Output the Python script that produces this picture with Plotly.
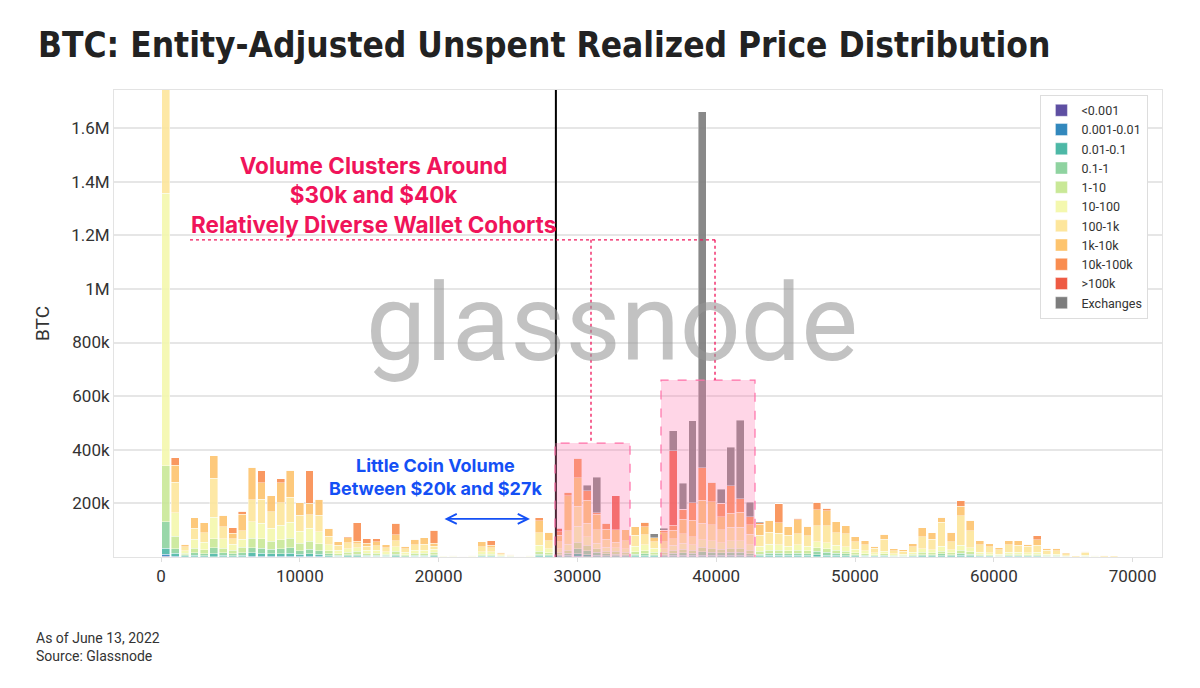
import plotly.graph_objects as go

# price bins: 100 buckets of $690 (0 .. 69,000), values in thousands of BTC
BIN_WIDTH = 690
price_bins = [BIN_WIDTH * i + BIN_WIDTH / 2 for i in range(100)]

cohorts = ["<0.001", "0.001-0.01", "0.01-0.1", "0.1-1", "1-10", "10-100",
           "100-1k", "1k-10k", "10k-100k", ">100k", "Exchanges"]
colors = ["#5e4fa2", "#3288bd", "#4db8a6", "#8fd3a0", "#c9e897", "#f4f8ae",
          "#fde69c", "#fdc46e", "#f98d50", "#ee5a43", "#7d7d7d"]

lt_0001 = [3, 0, 0, 0, 0, 0, 0, 0, 0, 0,
           0, 0, 0, 0, 0, 0, 0, 0, 0, 0,
           0, 0, 0, 0, 0, 0, 0, 0, 0, 0,
           0, 0, 0, 0, 0, 0, 0, 0, 0, 0,
           0, 0, 0, 0, 0, 0, 0, 0, 0, 0,
           0, 0, 0, 0, 0, 0, 0, 0, 0, 0,
           0, 0, 0, 0, 0, 0, 0, 0, 0, 0,
           0, 0, 0, 0, 0, 0, 0, 0, 0, 0,
           0, 0, 0, 0, 0, 0, 0, 0, 0, 0,
           0, 0, 0, 0, 0, 0, 0, 0, 0, 0]
c_0001_001 = [8, 2, 1, 1, 1, 1, 1, 1, 1, 3,
              2, 2, 2, 2, 2, 2, 2, 1, 1, 1,
              1, 1, 1, 1, 1, 0, 1, 1, 1, 0,
              0, 0, 0, 0, 0, 0, 0, 0, 0, 1,
              1, 1, 1, 2, 1, 1, 1, 1, 1, 1,
              1, 1, 1, 1, 1, 1, 1, 1, 1, 1,
              1, 1, 1, 1, 1, 1, 1, 1, 1, 1,
              1, 1, 1, 1, 0, 0, 0, 0, 0, 1,
              1, 1, 1, 1, 1, 0, 0, 0, 0, 0,
              0, 0, 0, 0, 0, 0, 0, 0, 0, 0]
c_001_01 = [22, 12, 3, 5, 4, 12, 5, 4, 5, 13,
            12, 10, 11, 12, 8, 10, 8, 4, 2, 3,
            4, 2, 2, 2, 4, 1, 2, 2, 3, 0,
            0, 0, 0, 2, 2, 1, 0, 0, 0, 4,
            3, 3, 5, 10, 8, 6, 4, 4, 3, 4,
            4, 3, 3, 5, 5, 5, 6, 6, 5, 6,
            6, 4, 4, 5, 5, 5, 5, 5, 8, 6,
            5, 4, 3, 2, 2, 2, 1, 1, 2, 3,
            3, 4, 3, 5, 4, 2, 2, 1, 2, 2,
            2, 2, 1, 1, 0, 0, 0, 0, 0, 0]
c_01_1 = [98, 17, 4, 10, 8, 21, 9, 7, 10, 18,
          18, 16, 18, 20, 14, 16, 14, 7, 4, 5,
          6, 4, 4, 3, 6, 3, 4, 4, 5, 0,
          0, 0, 0, 3, 3, 1, 1, 0, 0, 6,
          4, 5, 8, 18, 14, 10, 7, 6, 5, 6,
          7, 5, 5, 8, 9, 8, 12, 10, 9, 10,
          10, 8, 6, 8, 8, 7, 8, 7, 12, 10,
          8, 7, 5, 4, 3, 4, 2, 2, 3, 5,
          4, 7, 4, 8, 6, 3, 3, 2, 3, 3,
          3, 3, 2, 2, 1, 0, 1, 0, 0, 0]
c_1_10 = [209, 47, 6, 16, 14, 34, 18, 13, 20, 36,
          36, 30, 33, 36, 28, 30, 26, 12, 6, 8,
          10, 7, 7, 5, 10, 5, 7, 7, 8, 1,
          1, 0, 1, 5, 5, 2, 1, 0, 1, 10,
          8, 8, 12, 25, 20, 14, 10, 10, 8, 9,
          11, 8, 8, 12, 14, 12, 18, 16, 14, 16,
          16, 12, 10, 12, 12, 10, 12, 10, 14, 14,
          12, 10, 7, 6, 4, 6, 3, 3, 5, 8,
          7, 10, 7, 12, 9, 5, 4, 3, 5, 5,
          4, 5, 3, 3, 1, 0, 2, 1, 0, 0]
c_10_100 = [1016, 87, 10, 34, 28, 80, 35, 22, 30, 62,
            57, 50, 55, 60, 45, 50, 45, 22, 12, 14,
            14, 12, 12, 9, 18, 8, 12, 12, 12, 1,
            2, 1, 2, 10, 10, 4, 2, 1, 2, 22,
            14, 14, 22, 60, 32, 20, 15, 14, 14, 20,
            22, 15, 14, 18, 22, 20, 28, 27, 24, 28,
            28, 20, 20, 22, 20, 17, 20, 17, 22, 22,
            18, 16, 12, 10, 7, 10, 6, 5, 8, 14,
            12, 18, 12, 18, 14, 8, 7, 5, 8, 8,
            7, 8, 5, 5, 3, 1, 4, 1, 1, 1]
c_100_1k = [500, 114, 14, 41, 35, 146, 45, 22, 32, 81,
            90, 60, 83, 93, 58, 50, 60, 32, 18, 22,
            14, 14, 16, 14, 22, 13, 20, 22, 12, 2,
            2, 1, 2, 18, 14, 5, 3, 1, 2, 48,
            30, 26, 50, 75, 50, 50, 30, 20, 30, 42,
            38, 25, 25, 25, 36, 30, 60, 60, 48, 50,
            50, 40, 40, 45, 42, 42, 40, 40, 60, 64,
            47, 48, 28, 22, 16, 45, 12, 11, 20, 44,
            40, 90, 30, 110, 64, 28, 22, 16, 28, 26,
            24, 26, 14, 13, 7, 3, 11, 4, 4, 3]
c_1k_10k = [0, 63, 10, 40, 38, 83, 42, 19, 62, 122,
            62, 60, 75, 100, 50, 42, 60, 30, 14, 18,
            10, 12, 14, 11, 22, 10, 20, 24, 10, 1,
            2, 0, 2, 18, 10, 4, 3, 0, 2, 45,
            32, 25, 131, 106, 87, 58, 37, 46, 40, 30,
            30, 15, 34, 31, 54, 62, 87, 87, 50, 52,
            56, 36, 42, 44, 40, 30, 53, 34, 60, 55,
            40, 30, 20, 15, 8, 18, 7, 5, 12, 34,
            24, 18, 36, 35, 40, 15, 12, 8, 15, 17,
            8, 20, 7, 8, 3, 1, 4, 1, 1, 1]
c_10k_100k = [0, 29, 0, 0, 0, 0, 0, 21, 10, 0,
              45, 0, 14, 0, 0, 122, 0, 0, 0, 4,
              68, 16, 12, 0, 42, 0, 0, 0, 48, 0,
              0, 0, 0, 0, 16, 0, 0, 0, 0, 11,
              0, 13, 12, 73, 35, 7, 22, 0, 0, 0,
              16, 0, 10, 19, 37, 65, 121, 72, 50, 103,
              50, 30, 5, 0, 71, 0, 6, 0, 28, 10,
              0, 0, 0, 0, 0, 0, 0, 0, 0, 0,
              0, 0, 0, 20, 0, 0, 0, 0, 0, 0,
              0, 16, 0, 0, 0, 0, 0, 0, 0, 0]
gt_100k = [0, 0, 0, 0, 0, 0, 0, 0, 0, 0,
           0, 0, 0, 0, 0, 0, 0, 0, 0, 0,
           0, 0, 0, 0, 0, 0, 0, 0, 0, 0,
           0, 0, 0, 0, 0, 0, 0, 0, 0, 0,
           0, 12, 0, 0, 0, 0, 0, 127, 0, 0,
           0, 0, 0, 277, 0, 0, 0, 0, 0, 0,
           0, 0, 0, 0, 0, 0, 0, 0, 0, 0,
           0, 0, 0, 0, 0, 0, 0, 0, 0, 0,
           0, 0, 0, 0, 0, 0, 0, 0, 0, 0,
           0, 0, 0, 0, 0, 0, 0, 0, 0, 0]
exchanges = [0, 0, 0, 0, 0, 0, 0, 0, 0, 0,
             0, 0, 0, 0, 0, 0, 0, 0, 0, 0,
             0, 0, 0, 0, 0, 0, 0, 0, 0, 0,
             0, 0, 0, 0, 0, 0, 0, 0, 0, 0,
             0, 0, 0, 0, 20, 132, 0, 0, 0, 0,
             0, 15, 7, 75, 97, 306, 1327, 0, 52, 143,
             293, 53, 3, 0, 0, 0, 0, 0, 0, 0,
             0, 0, 0, 0, 0, 0, 0, 0, 0, 0,
             0, 0, 0, 0, 0, 0, 0, 0, 0, 0,
             0, 0, 0, 0, 0, 0, 0, 0, 0, 0]

series = [lt_0001, c_0001_001, c_001_01, c_01_1, c_1_10, c_10_100,
          c_100_1k, c_1k_10k, c_10k_100k, gt_100k, exchanges]

y_ticks = [200, 400, 600, 800, 1000, 1200, 1400, 1600]
y_tick_text = ["200k", "400k", "600k", "800k", "1M", "1.2M", "1.4M", "1.6M"]
x_ticks = [0, 10000, 20000, 30000, 40000, 50000, 60000, 70000]

current_price = 28450
cluster_30k = (28386, 33790, 425)
cluster_40k = (36023, 42795, 660)

PINK = "#f0145a"
BLUE = "#1450f5"

# the page body has an 8px margin, so the figure is drawn 8px smaller
W, H = 1192, 680


def main():
    fig = go.Figure()

    for name, vals, col in zip(cohorts, series, colors):
        fig.add_trace(go.Bar(
            x=price_bins, y=vals, name=name,
            marker=dict(color=col, opacity=0.9,
                        line=dict(color="rgba(255,255,255,0.7)", width=0.6)),
        ))

    # current price line
    fig.add_shape(type="line", x0=current_price, x1=current_price, y0=0, y1=1742,
                  line=dict(color="black", width=2), layer="above")

    # highlighted clusters
    for x0, x1, top in (cluster_30k, cluster_40k):
        fig.add_shape(type="rect", x0=x0, x1=x1, y0=-10, y1=top,
                      fillcolor="rgba(255,120,175,0.3)",
                      line=dict(color="#ff70a8", width=1.2, dash="dash"),
                      layer="above")

    # dotted leader lines
    dot = dict(color=PINK, width=1.3, dash="dot")
    fig.add_shape(type="line", x0=2089, x1=39914, y0=1183, y1=1183, line=dot)
    fig.add_shape(type="line", x0=30980, x1=30980, y0=1183, y1=cluster_30k[2], line=dot)
    fig.add_shape(type="line", x0=39914, x1=39914, y0=1183, y1=cluster_40k[2], line=dot)

    # watermark
    fig.add_annotation(text="glassnode", x=0.475, y=0.5, xref="paper", yref="paper",
                       showarrow=False,
                       font=dict(family="Roboto", size=107, color="rgba(150,150,150,0.58)"))

    fig.add_annotation(
        text="<b>Volume Clusters Around<br>$30k and $40k<br>Relatively Diverse Wallet Cohorts</b>",
        x=15274, y=1352, showarrow=False,
        font=dict(family="Inter", size=22.5, color=PINK), align="center")

    fig.add_annotation(
        text="<b>Little Coin Volume<br>Between $20k and $27k</b>",
        x=19741, y=298, showarrow=False,
        font=dict(family="Inter", size=18, color=BLUE), align="center")

    fig.add_annotation(x=26585, y=142, ax=20317, ay=142, axref="x", ayref="y",
                       text="", showarrow=True, arrowside="end+start",
                       arrowhead=5, arrowsize=1.1, arrowwidth=1.8, arrowcolor=BLUE)

    # footer
    fig.add_annotation(text="As of June 13, 2022<br>Source: Glassnode",
                       x=(34 - 114) / 1048, y=(557 - 647) / 467,
                       xref="paper", yref="paper",
                       xanchor="left", yanchor="middle", align="left", showarrow=False,
                       font=dict(family="Roboto", size=14, color="#333333"))

    fig.update_layout(
        barmode="stack", bargap=0.18,
        width=W, height=H,
        margin=dict(l=106, r=38, t=82, b=131),
        paper_bgcolor="white", plot_bgcolor="white",
        font=dict(family="Roboto", color="#333333"),
        title=dict(text="<b>BTC: Entity-Adjusted Unspent Realized Price Distribution</b>",
                   x=30 / W, xanchor="left", y=1 - 37 / H, yanchor="middle",
                   font=dict(family="DejaVu Sans Condensed, Liberation Sans Narrow, Roboto",
                             size=35, color="#222222")),
        legend=dict(x=0.884, y=0.99, xanchor="left", yanchor="top",
                    traceorder="normal",
                    bgcolor="white", bordercolor="#dddddd", borderwidth=1,
                    font=dict(size=12.5, color="#333333"), tracegroupgap=0,
                    itemwidth=30),
        xaxis=dict(range=[-3386, 72118], tickvals=x_ticks, tickformat="d",
                   showgrid=False, automargin=False,
                   tickfont=dict(size=17, color="#333333"), ticks="outside",
                   ticklen=4, tickcolor="#dddddd",
                   showline=True, linecolor="#e3e3e3", mirror=True, zeroline=False),
        yaxis=dict(range=[0, 1742], tickvals=y_ticks, ticktext=y_tick_text,
                   showgrid=True, gridcolor="#e6e6e6", gridwidth=1.5, automargin=False,
                   tickfont=dict(size=17, color="#333333"),
                   title=dict(text="BTC", font=dict(size=19, color="#333333"), standoff=16),
                   showline=True, linecolor="#e3e3e3", mirror=True, zeroline=False),
    )

    fig.write_html("out.html")


if __name__ == "__main__":
    main()
